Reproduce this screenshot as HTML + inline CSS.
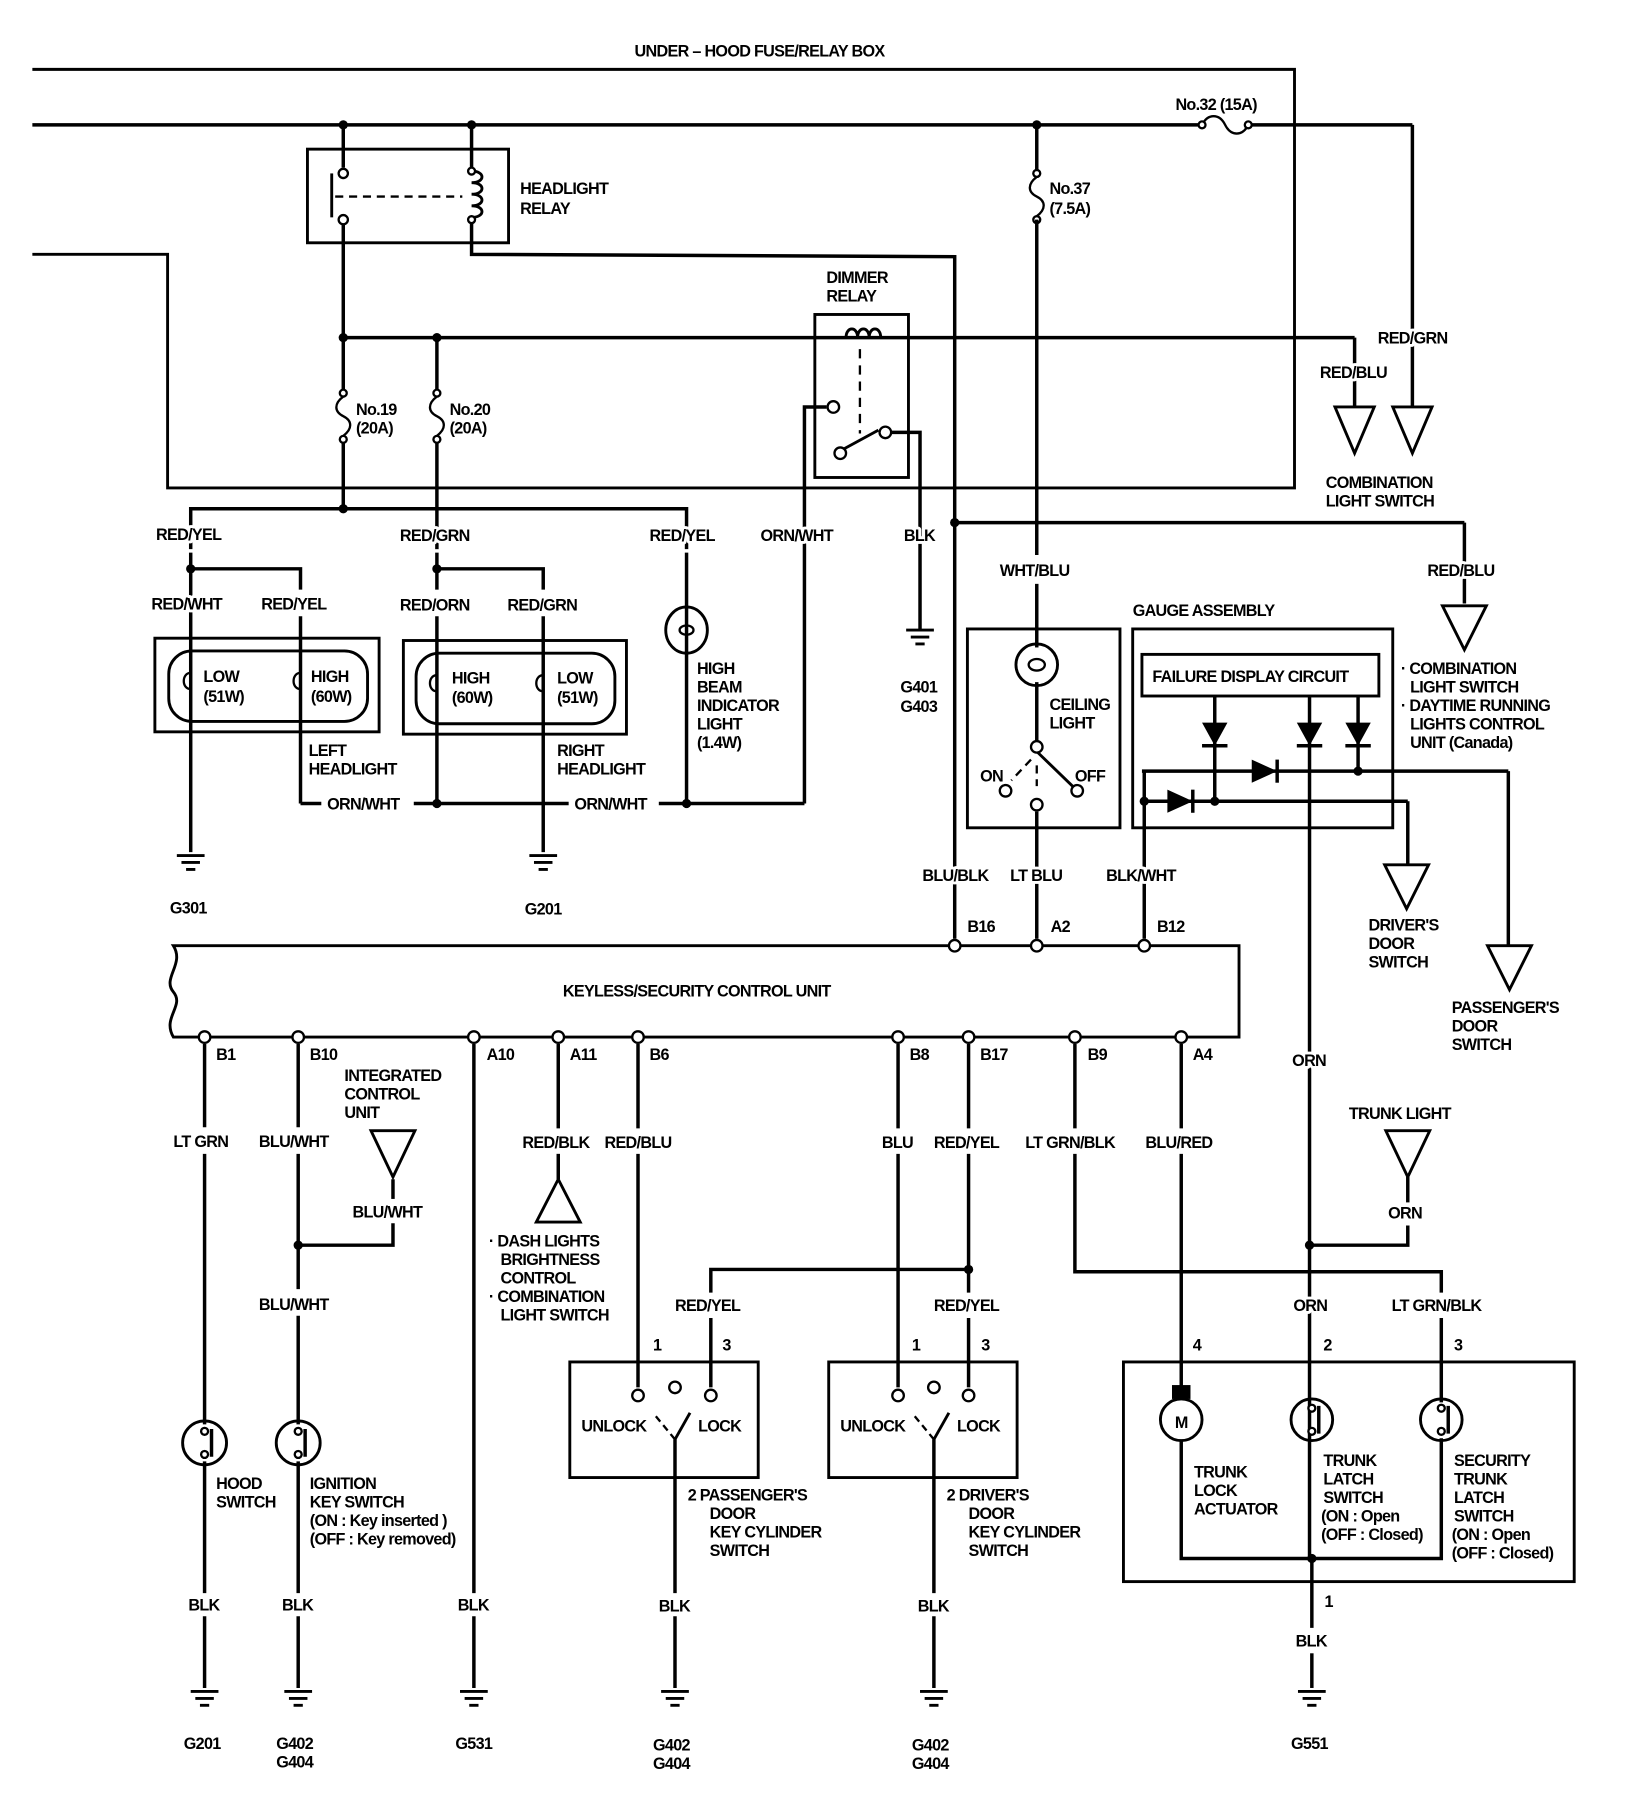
<!DOCTYPE html>
<html><head><meta charset="utf-8"><style>
html,body{margin:0;padding:0;background:#fff;}
svg{display:block}
text{font-family:"Liberation Sans",sans-serif;font-size:14px;font-weight:bold;fill:#000;letter-spacing:-0.6px;paint-order:stroke;stroke:#fff;stroke-width:5px;stroke-linejoin:round}
</style></head><body>
<svg width="1632" height="1814" viewBox="0 0 1412 1569" preserveAspectRatio="none" xmlns="http://www.w3.org/2000/svg">
<g fill="none" stroke="#000" stroke-width="3">
<polyline points="28,60 1120,60 1120,422 145,422 145,220 28,220" stroke-width="2.5"/>
<line x1="28" y1="108" x2="1040" y2="108"/>
<line x1="1080" y1="108" x2="1222" y2="108"/>
<path d="M1040,108 c5,-10 15,-10 20,0 c5,10 15,10 20,0" stroke-width="2"/>
<line x1="1222" y1="108" x2="1222" y2="352"/>
<rect x="266" y="129" width="174" height="81" stroke-width="2.5"/>
<line x1="297" y1="108" x2="297" y2="145"/>
<line x1="297" y1="193" x2="297" y2="337"/>
<line x1="297" y1="383" x2="297" y2="440"/>
<line x1="287" y1="150" x2="287" y2="188" stroke-width="2.5"/>
<line x1="290" y1="170" x2="400" y2="170" stroke-dasharray="7,5" stroke-width="2"/>
<line x1="408" y1="108" x2="408" y2="145"/>
<path d="M408,148 c12,0 12,10 0,10 c12,0 12,10 0,10 c12,0 12,10 0,10 c12,0 12,10 0,10" stroke-width="2.5"/>
<polyline points="408,190 408,220 826,222 826,812"/>
<line x1="297" y1="292" x2="1172" y2="292"/>
<line x1="1172" y1="292" x2="1172" y2="352"/>
<line x1="378" y1="292" x2="378" y2="337"/>
<line x1="378" y1="383" x2="378" y2="440"/>
<rect x="705" y="272" width="81" height="141" stroke-width="2.5"/>
<line x1="744" y1="302" x2="744" y2="375" stroke-dasharray="8,6" stroke-width="2"/>
<polyline points="696,695 696,352 715,352"/>
<line x1="727" y1="390" x2="760" y2="372" stroke-width="2.5"/>
<polyline points="771,374 796,374 796,545"/>
<polyline points="165,475 165,440 594,440 594,475"/>
<line x1="378" y1="440" x2="378" y2="475"/>
<line x1="594" y1="478" x2="594" y2="695"/>
<line x1="165" y1="478" x2="165" y2="737"/>
<polyline points="165,492 260,492 260,510"/>
<line x1="260" y1="533" x2="260" y2="695"/>
<line x1="260" y1="695" x2="278" y2="695"/>
<line x1="358" y1="695" x2="492" y2="695"/>
<line x1="570" y1="695" x2="696" y2="695"/>
<rect x="134" y="552" width="194" height="81" stroke-width="2.5"/>
<rect x="146" y="563" width="172" height="61" rx="20" stroke-width="2.5"/>
<line x1="378" y1="478" x2="378" y2="510"/>
<polyline points="378,492 470,492 470,510"/>
<line x1="378" y1="533" x2="378" y2="695"/>
<line x1="470" y1="533" x2="470" y2="737"/>
<rect x="349" y="554" width="193" height="81" stroke-width="2.5"/>
<rect x="360" y="565" width="172" height="61" rx="20" stroke-width="2.5"/>
<ellipse cx="594" cy="545" rx="18" ry="20" stroke-width="2.5"/>
<line x1="826" y1="452" x2="1267" y2="452"/>
<line x1="1267" y1="452" x2="1267" y2="522"/>
<line x1="897" y1="108" x2="897" y2="148"/>
<line x1="897" y1="190" x2="897" y2="480"/>
<line x1="897" y1="505" x2="897" y2="560"/>
<rect x="837" y="544" width="132" height="172" stroke-width="2.5"/>
<circle cx="897" cy="575" r="18" stroke-width="2.5"/>
<line x1="897" y1="590" x2="897" y2="643"/>
<line x1="897" y1="650" x2="928" y2="680" stroke-width="2.5"/>
<line x1="892" y1="657" x2="875" y2="675" stroke-dasharray="7,5" stroke-width="2"/>
<line x1="897" y1="662" x2="897" y2="680" stroke-dasharray="7,5" stroke-width="2"/>
<line x1="897" y1="702" x2="897" y2="812"/>
<rect x="980" y="544" width="225" height="172" stroke-width="2.5"/>
<rect x="988" y="566" width="205" height="36" stroke-width="2.5"/>
<line x1="1051" y1="602" x2="1051" y2="693"/>
<line x1="1133" y1="602" x2="1133" y2="1348"/>
<line x1="1175" y1="602" x2="1175" y2="667"/>
<line x1="988" y1="667" x2="1305" y2="667"/>
<line x1="1305" y1="667" x2="1305" y2="818"/>
<line x1="988" y1="693" x2="1218" y2="693"/>
<line x1="1218" y1="693" x2="1218" y2="748"/>
<line x1="990" y1="667" x2="990" y2="812"/>
<line x1="1040" y1="645" x2="1062" y2="645"/>
<line x1="1122" y1="645" x2="1144" y2="645"/>
<line x1="1164" y1="645" x2="1186" y2="645"/>
<line x1="1105" y1="657" x2="1105" y2="677"/>
<line x1="1032" y1="683" x2="1032" y2="703"/>
<path d="M150,818 L1072,818 L1072,897 L150,897 C140,880 160,870 150,858 C140,846 160,834 150,818 Z" stroke-width="2.5"/>
<line x1="177" y1="903" x2="177" y2="975"/>
<line x1="177" y1="998" x2="177" y2="1232"/>
<line x1="177" y1="1264" x2="177" y2="1378"/>
<line x1="177" y1="1398" x2="177" y2="1460"/>
<line x1="258" y1="903" x2="258" y2="975"/>
<line x1="258" y1="998" x2="258" y2="1115"/>
<polyline points="258,1077 340,1077 340,1058"/>
<line x1="340" y1="1020" x2="340" y2="1037"/>
<line x1="258" y1="1138" x2="258" y2="1232"/>
<line x1="258" y1="1264" x2="258" y2="1378"/>
<line x1="258" y1="1398" x2="258" y2="1460"/>
<line x1="410" y1="903" x2="410" y2="1378"/>
<line x1="410" y1="1398" x2="410" y2="1460"/>
<line x1="483" y1="903" x2="483" y2="976"/>
<line x1="483" y1="998" x2="483" y2="1020"/>
<line x1="552" y1="903" x2="552" y2="976"/>
<line x1="552" y1="998" x2="552" y2="1200"/>
<polyline points="615,1118 615,1098 838,1098"/>
<line x1="615" y1="1140" x2="615" y2="1200"/>
<line x1="777" y1="903" x2="777" y2="976"/>
<line x1="777" y1="998" x2="777" y2="1200"/>
<line x1="838" y1="903" x2="838" y2="976"/>
<line x1="838" y1="998" x2="838" y2="1118"/>
<line x1="838" y1="1140" x2="838" y2="1200"/>
<rect x="493" y="1178" width="163" height="100" stroke-width="2.5"/>
<rect x="717" y="1178" width="163" height="100" stroke-width="2.5"/>
<line x1="584" y1="1245" x2="584" y2="1378"/>
<line x1="584" y1="1398" x2="584" y2="1460"/>
<line x1="808" y1="1245" x2="808" y2="1378"/>
<line x1="808" y1="1398" x2="808" y2="1460"/>
<line x1="584" y1="1245" x2="597" y2="1222" stroke-width="2.5"/>
<line x1="584" y1="1245" x2="565" y2="1222" stroke-dasharray="6,4" stroke-width="2"/>
<line x1="808" y1="1245" x2="821" y2="1222" stroke-width="2.5"/>
<line x1="808" y1="1245" x2="789" y2="1222" stroke-dasharray="6,4" stroke-width="2"/>
<line x1="930" y1="903" x2="930" y2="976"/>
<polyline points="930,998 930,1100 1247,1100 1247,1118"/>
<line x1="1247" y1="1140" x2="1247" y2="1213"/>
<line x1="1022" y1="903" x2="1022" y2="976"/>
<line x1="1022" y1="998" x2="1022" y2="1200"/>
<polyline points="1218,1018 1218,1040"/>
<polyline points="1218,1060 1218,1077 1133,1077"/>
<rect x="972" y="1178" width="390" height="190" stroke-width="2.5"/>
<circle cx="1022" cy="1228" r="18" stroke-width="2.5"/>
<circle cx="1135" cy="1228" r="18" stroke-width="2.5"/>
<circle cx="1247" cy="1228" r="18" stroke-width="2.5"/>
<polyline points="1022,1246 1022,1348 1247,1348 1247,1244"/>
<line x1="1135" y1="1348" x2="1135" y2="1408"/>
<line x1="1135" y1="1430" x2="1135" y2="1460"/>
<polygon points="1155,352 1189,352 1172,392" stroke-width="2.5"/>
<polygon points="1205,352 1239,352 1222,392" stroke-width="2.5"/>
<polygon points="1248,524 1286,524 1267,562" stroke-width="2.5"/>
<polygon points="1198,748 1236,748 1217,786" stroke-width="2.5"/>
<polygon points="1287,818 1325,818 1306,856" stroke-width="2.5"/>
<polygon points="321,978 359,978 340,1018" stroke-width="2.5"/>
<polygon points="464,1057 502,1057 483,1020" stroke-width="2.5"/>
<polygon points="1199,978 1237,978 1218,1018" stroke-width="2.5"/>
<circle cx="177" cy="1248" r="19" stroke-width="2.5"/>
<circle cx="258" cy="1248" r="19" stroke-width="2.5"/>
</g>
<g fill="none" stroke="#000" stroke-width="2">
<circle cx="297" cy="340" r="3"/><path d="M297,343 c-8,6 -8,13 0,17 c8,4 8,11 0,17"/><circle cx="297" cy="380" r="3"/>
<circle cx="378" cy="340" r="3"/><path d="M378,343 c-8,6 -8,13 0,17 c8,4 8,11 0,17"/><circle cx="378" cy="380" r="3"/>
<circle cx="897" cy="150" r="3"/><path d="M897,153 c-8,6 -8,13 0,17 c8,4 8,11 0,17"/><circle cx="897" cy="190" r="3"/>
<circle cx="1040" cy="108" r="3" fill="#fff"/><circle cx="1080" cy="108" r="3" fill="#fff"/>
<circle cx="297" cy="150" r="4" fill="#fff"/><circle cx="297" cy="190" r="4" fill="#fff"/>
<circle cx="408" cy="148" r="3" fill="#fff"/><circle cx="408" cy="190" r="3" fill="#fff"/>
<path d="M732,292 c0,-10 10,-10 10,0 c0,-10 10,-10 10,0 c0,-10 10,-10 10,0" stroke-width="2.5"/>
<circle cx="721" cy="352" r="5" fill="#fff"/><circle cx="727" cy="392" r="5" fill="#fff"/><circle cx="766" cy="374" r="5" fill="#fff"/>
<path d="M165,582 c-8,0 -8,14 0,14"/><path d="M260,582 c-8,0 -8,14 0,14"/>
<path d="M378,584 c-8,0 -8,14 0,14"/><path d="M470,584 c-8,0 -8,14 0,14"/>
<ellipse cx="594" cy="545" rx="6" ry="4"/>
<ellipse cx="897" cy="575" rx="7" ry="5"/>
<circle cx="897" cy="646" r="5" fill="#fff"/><circle cx="870" cy="684" r="5" fill="#fff"/><circle cx="897" cy="696" r="5" fill="#fff"/><circle cx="932" cy="684" r="5" fill="#fff"/>
<g fill="#fff" stroke-width="2">
<circle cx="826" cy="818" r="5"/><circle cx="897" cy="818" r="5"/><circle cx="990" cy="818" r="5"/>
<circle cx="177" cy="897" r="5"/><circle cx="258" cy="897" r="5"/><circle cx="410" cy="897" r="5"/><circle cx="483" cy="897" r="5"/><circle cx="552" cy="897" r="5"/><circle cx="777" cy="897" r="5"/><circle cx="838" cy="897" r="5"/><circle cx="930" cy="897" r="5"/><circle cx="1022" cy="897" r="5"/>
<circle cx="552" cy="1207" r="5"/><circle cx="584" cy="1200" r="5"/><circle cx="615" cy="1207" r="5"/>
<circle cx="777" cy="1207" r="5"/><circle cx="808" cy="1200" r="5"/><circle cx="838" cy="1207" r="5"/>
</g>
<line x1="183" y1="1236" x2="183" y2="1260" stroke-width="3"/><circle cx="177" cy="1238" r="3" fill="#fff"/><circle cx="177" cy="1258" r="3" fill="#fff"/>
<line x1="264" y1="1236" x2="264" y2="1260" stroke-width="3"/><circle cx="258" cy="1238" r="3" fill="#fff"/><circle cx="258" cy="1258" r="3" fill="#fff"/>
<line x1="1141" y1="1216" x2="1141" y2="1240" stroke-width="3"/><circle cx="1135" cy="1218" r="3" fill="#fff"/><circle cx="1135" cy="1238" r="3" fill="#fff"/>
<line x1="1253" y1="1216" x2="1253" y2="1240" stroke-width="3"/><circle cx="1247" cy="1218" r="3" fill="#fff"/><circle cx="1247" cy="1238" r="3" fill="#fff"/>
<g stroke-width="2.5">
<path d="M153,740 h24 M157,746 h16 M161,752 h8"/><path d="M458,740 h24 M462,746 h16 M466,752 h8"/>
<path d="M784,545 h24 M788,551 h16 M792,557 h8"/>
<path d="M165,1463 h24 M169,1469 h16 M173,1475 h8"/>
<path d="M246,1463 h24 M250,1469 h16 M254,1475 h8"/>
<path d="M398,1463 h24 M402,1469 h16 M406,1475 h8"/>
<path d="M572,1463 h24 M576,1469 h16 M580,1475 h8"/>
<path d="M796,1463 h24 M800,1469 h16 M804,1475 h8"/>
<path d="M1123,1463 h24 M1127,1469 h16 M1131,1475 h8"/>
</g>
</g>
<g fill="#000">
<circle cx="297" cy="108" r="4"/><circle cx="408" cy="108" r="4"/><circle cx="897" cy="108" r="4"/>
<circle cx="297" cy="292" r="4"/><circle cx="378" cy="292" r="4"/><circle cx="297" cy="440" r="4"/>
<circle cx="165" cy="492" r="4"/><circle cx="378" cy="492" r="4"/><circle cx="378" cy="695" r="4"/><circle cx="594" cy="695" r="4"/>
<circle cx="826" cy="452" r="4"/><circle cx="1051" cy="693" r="4"/><circle cx="1175" cy="667" r="4"/><circle cx="990" cy="693" r="4"/>
<circle cx="258" cy="1077" r="4"/><circle cx="838" cy="1098" r="4"/><circle cx="1133" cy="1077" r="4"/><circle cx="1135" cy="1348" r="4"/>
<polygon points="1040,625 1062,625 1051,645"/><polygon points="1122,625 1144,625 1133,645"/><polygon points="1164,625 1186,625 1175,645"/>
<polygon points="1083,657 1083,677 1105,667"/><polygon points="1010,683 1010,703 1032,693"/>
<rect x="1014" y="1198" width="16" height="12"/>
</g>
<text x="1022" y="1235" text-anchor="middle" font-size="13" style="stroke:none">M</text>
<g>
<text x="549" y="49">UNDER – HOOD FUSE/RELAY BOX</text>
<text x="1017" y="95">No.32 (15A)</text>
<text x="450" y="168">HEADLIGHT</text><text x="450" y="185">RELAY</text>
<text x="908" y="168">No.37</text><text x="908" y="185">(7.5A)</text>
<text x="715" y="245">DIMMER</text><text x="715" y="261">RELAY</text>
<text x="1192" y="297">RED/GRN</text><text x="1142" y="327">RED/BLU</text>
<text x="1147" y="422">COMBINATION</text><text x="1147" y="438">LIGHT SWITCH</text>
<text x="308" y="359">No.19</text><text x="308" y="375">(20A)</text>
<text x="389" y="359">No.20</text><text x="389" y="375">(20A)</text>
<text x="135" y="467">RED/YEL</text><text x="346" y="468">RED/GRN</text><text x="562" y="468">RED/YEL</text><text x="658" y="468">ORN/WHT</text><text x="782" y="468">BLK</text>
<text x="131" y="527">RED/WHT</text><text x="226" y="527">RED/YEL</text><text x="346" y="528">RED/ORN</text><text x="439" y="528">RED/GRN</text>
<text x="176" y="590">LOW</text><text x="176" y="607">(51W)</text><text x="269" y="590">HIGH</text><text x="269" y="607">(60W)</text>
<text x="391" y="591">HIGH</text><text x="391" y="608">(60W)</text><text x="482" y="591">LOW</text><text x="482" y="608">(51W)</text>
<text x="267" y="654">LEFT</text><text x="267" y="670">HEADLIGHT</text>
<text x="482" y="654">RIGHT</text><text x="482" y="670">HEADLIGHT</text>
<text x="283" y="700">ORN/WHT</text><text x="497" y="700">ORN/WHT</text>
<text x="603" y="583">HIGH</text><text x="603" y="599">BEAM</text><text x="603" y="615">INDICATOR</text><text x="603" y="631">LIGHT</text><text x="603" y="647">(1.4W)</text>
<text x="779" y="599">G401</text><text x="779" y="616">G403</text>
<text x="865" y="498">WHT/BLU</text><text x="1235" y="498">RED/BLU</text>
<text x="980" y="533">GAUGE ASSEMBLY</text>
<text x="997" y="590">FAILURE DISPLAY CIRCUIT</text>
<text x="908" y="614">CEILING</text><text x="908" y="630">LIGHT</text>
<text x="848" y="676">ON</text><text x="930" y="676">OFF</text>
<text x="1212" y="583">· COMBINATION</text><text x="1220" y="599">LIGHT SWITCH</text><text x="1212" y="615">· DAYTIME RUNNING</text><text x="1220" y="631">LIGHTS CONTROL</text><text x="1220" y="647">UNIT (Canada)</text>
<text x="147" y="790">G301</text><text x="454" y="791">G201</text>
<text x="798" y="762">BLU/BLK</text><text x="874" y="762">LT BLU</text><text x="957" y="762">BLK/WHT</text>
<text x="837" y="806">B16</text><text x="909" y="806">A2</text><text x="1001" y="806">B12</text>
<text x="1184" y="805">DRIVER'S</text><text x="1184" y="821">DOOR</text><text x="1184" y="837">SWITCH</text>
<text x="1256" y="876">PASSENGER'S</text><text x="1256" y="892">DOOR</text><text x="1256" y="908">SWITCH</text>
<text x="487" y="862">KEYLESS/SECURITY CONTROL UNIT</text>
<text x="187" y="917">B1</text><text x="268" y="917">B10</text><text x="421" y="917">A10</text><text x="493" y="917">A11</text><text x="562" y="917">B6</text><text x="787" y="917">B8</text><text x="848" y="917">B17</text><text x="941" y="917">B9</text><text x="1032" y="917">A4</text>
<text x="1118" y="922">ORN</text>
<text x="298" y="935">INTEGRATED</text><text x="298" y="951">CONTROL</text><text x="298" y="967">UNIT</text>
<text x="1167" y="968">TRUNK LIGHT</text>
<text x="150" y="992">LT GRN</text><text x="224" y="992">BLU/WHT</text><text x="452" y="993">RED/BLK</text><text x="523" y="993">RED/BLU</text><text x="763" y="993">BLU</text><text x="808" y="993">RED/YEL</text><text x="887" y="993">LT GRN/BLK</text><text x="991" y="993">BLU/RED</text>
<text x="305" y="1053">BLU/WHT</text><text x="1201" y="1054">ORN</text>
<text x="423" y="1078">· DASH LIGHTS</text><text x="433" y="1094">BRIGHTNESS</text><text x="433" y="1110">CONTROL</text><text x="423" y="1126">· COMBINATION</text><text x="433" y="1142">LIGHT SWITCH</text>
<text x="224" y="1133">BLU/WHT</text><text x="584" y="1134">RED/YEL</text><text x="808" y="1134">RED/YEL</text><text x="1119" y="1134">ORN</text><text x="1204" y="1134">LT GRN/BLK</text>
<text x="565" y="1168">1</text><text x="625" y="1168">3</text><text x="789" y="1168">1</text><text x="849" y="1168">3</text>
<text x="1032" y="1168">4</text><text x="1145" y="1168">2</text><text x="1258" y="1168">3</text>
<text x="503" y="1238">UNLOCK</text><text x="604" y="1238">LOCK</text><text x="727" y="1238">UNLOCK</text><text x="828" y="1238">LOCK</text>
<text x="187" y="1288">HOOD</text><text x="187" y="1304">SWITCH</text>
<text x="268" y="1288">IGNITION</text><text x="268" y="1304">KEY SWITCH</text><text x="268" y="1320">(ON  : Key inserted )</text><text x="268" y="1336">(OFF : Key removed)</text>
<text x="595" y="1298">2  PASSENGER'S</text><text x="614" y="1314">DOOR</text><text x="614" y="1330">KEY CYLINDER</text><text x="614" y="1346">SWITCH</text>
<text x="819" y="1298">2  DRIVER'S</text><text x="838" y="1314">DOOR</text><text x="838" y="1330">KEY CYLINDER</text><text x="838" y="1346">SWITCH</text>
<text x="1033" y="1278">TRUNK</text><text x="1033" y="1294">LOCK</text><text x="1033" y="1310">ACTUATOR</text>
<text x="1145" y="1268">TRUNK</text><text x="1145" y="1284">LATCH</text><text x="1145" y="1300">SWITCH</text><text x="1143" y="1316">(ON  : Open</text><text x="1143" y="1332">(OFF : Closed)</text>
<text x="1258" y="1268">SECURITY</text><text x="1258" y="1284">TRUNK</text><text x="1258" y="1300">LATCH</text><text x="1258" y="1316">SWITCH</text><text x="1256" y="1332">(ON  : Open</text><text x="1256" y="1348">(OFF : Closed)</text>
<text x="1146" y="1390">1</text>
<text x="163" y="1393">BLK</text><text x="244" y="1393">BLK</text><text x="396" y="1393">BLK</text><text x="570" y="1394">BLK</text><text x="794" y="1394">BLK</text><text x="1121" y="1424">BLK</text>
<text x="159" y="1513">G201</text><text x="239" y="1513">G402</text><text x="239" y="1529">G404</text><text x="394" y="1513">G531</text>
<text x="565" y="1514">G402</text><text x="565" y="1530">G404</text><text x="789" y="1514">G402</text><text x="789" y="1530">G404</text><text x="1117" y="1513">G551</text>
</g>
</svg>
</body></html>
